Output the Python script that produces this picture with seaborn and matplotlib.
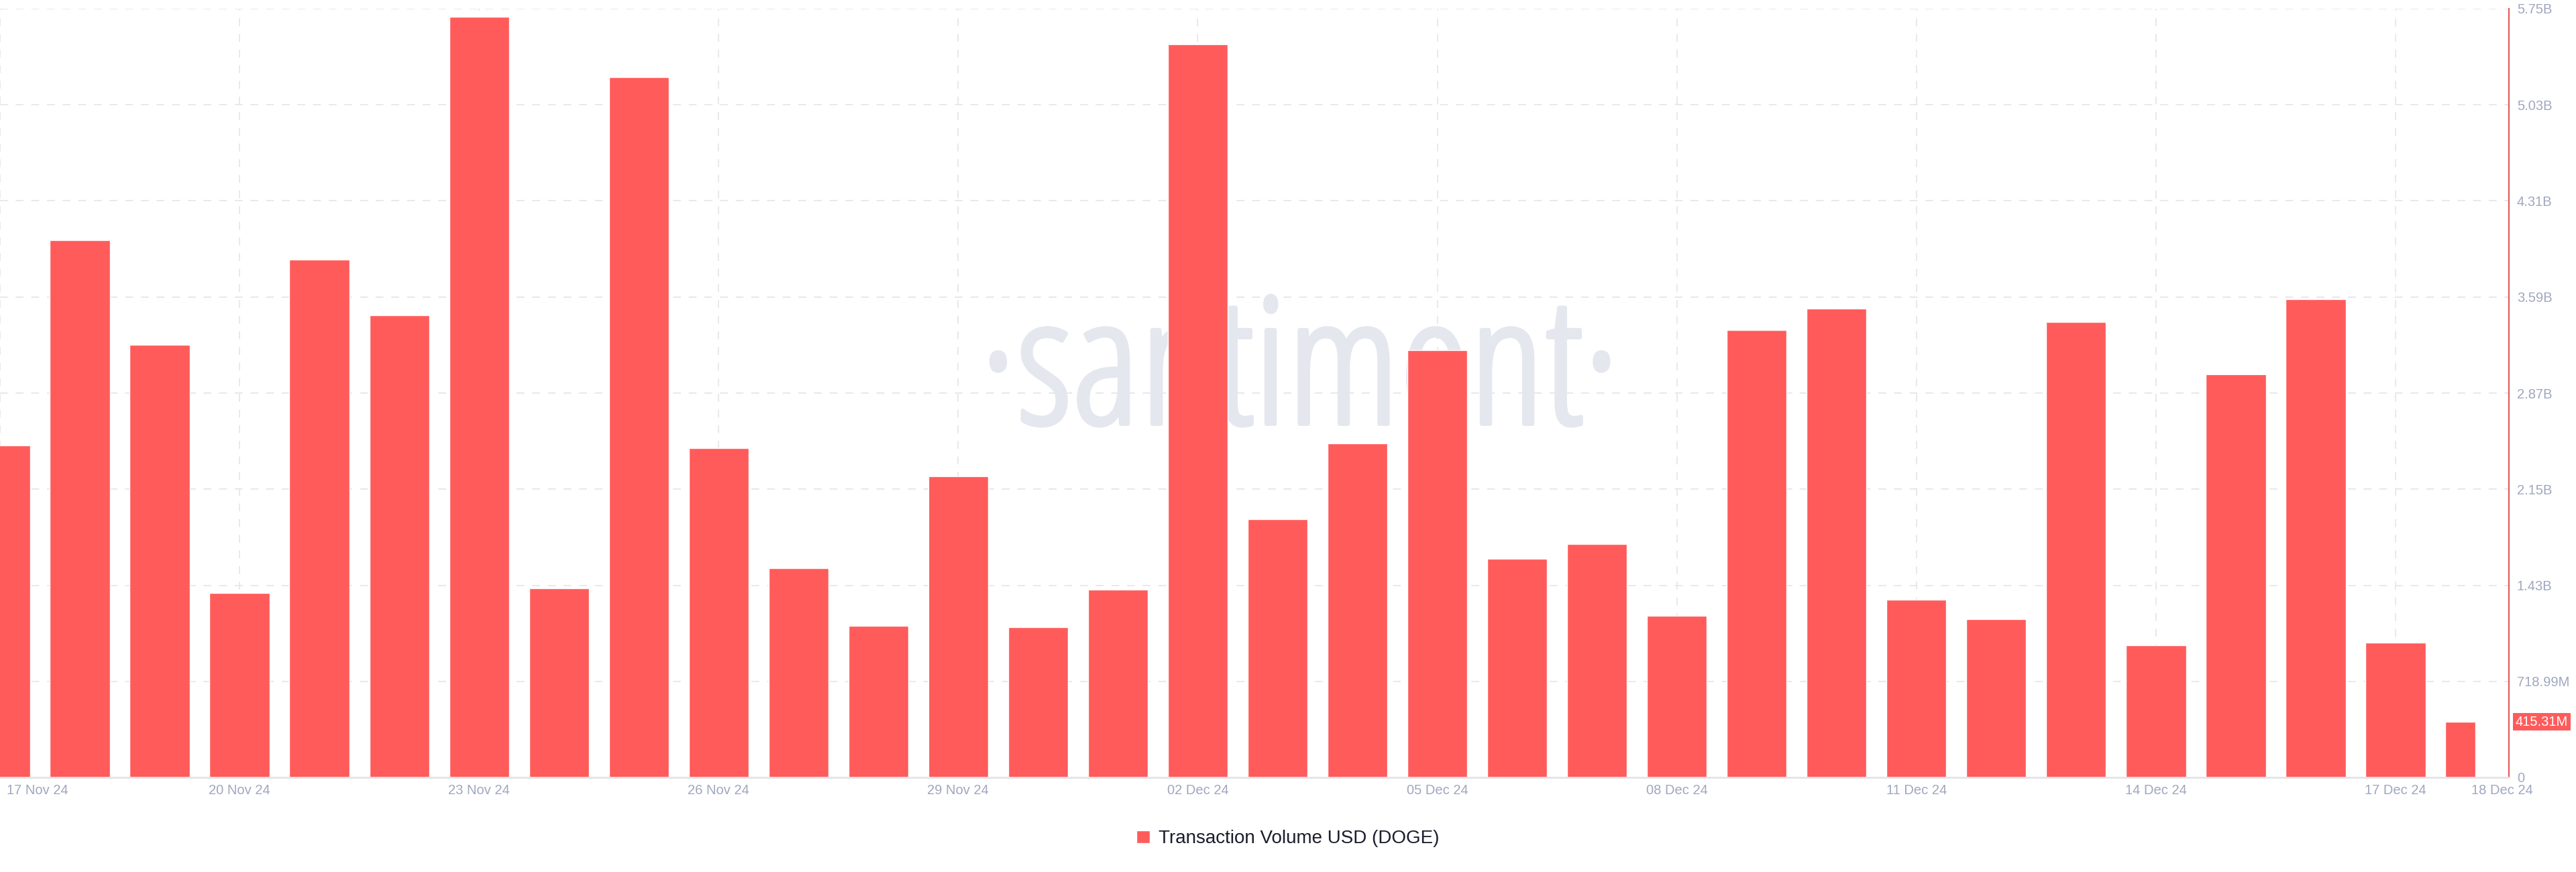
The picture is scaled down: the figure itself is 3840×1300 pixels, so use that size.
import matplotlib
matplotlib.use("Agg")
import matplotlib.pyplot as plt
import matplotlib.transforms as mtransforms
import matplotlib.patheffects as pe
from matplotlib import font_manager
import seaborn as sns
import pandas as pd

# --- data ---
dates = ["17 Nov 24", "18 Nov 24", "19 Nov 24", "20 Nov 24", "21 Nov 24", "22 Nov 24",
         "23 Nov 24", "24 Nov 24", "25 Nov 24", "26 Nov 24", "27 Nov 24", "28 Nov 24",
         "29 Nov 24", "30 Nov 24", "01 Dec 24", "02 Dec 24", "03 Dec 24", "04 Dec 24",
         "05 Dec 24", "06 Dec 24", "07 Dec 24", "08 Dec 24", "09 Dec 24", "10 Dec 24",
         "11 Dec 24", "12 Dec 24", "13 Dec 24", "14 Dec 24", "15 Dec 24", "16 Dec 24",
         "17 Dec 24", "18 Dec 24"]
volume_bn = [2.486, 4.022, 3.236, 1.380, 3.875, 3.457, 5.694, 1.417, 5.239, 2.462,
             1.565, 1.134, 2.253, 1.122, 1.405, 5.485, 1.933, 2.498, 3.199, 1.638,
             1.749, 1.208, 3.346, 3.506, 1.331, 1.184, 3.408, 0.987, 3.015, 3.580,
             1.011, 0.41531]
x_tick_days = ["17 Nov 24", "20 Nov 24", "23 Nov 24", "26 Nov 24", "29 Nov 24", "02 Dec 24",
               "05 Dec 24", "08 Dec 24", "11 Dec 24", "14 Dec 24", "17 Dec 24", "18 Dec 24"]
y_step = 718.99e6
y_tick_labels = ["0", "718.99M", "1.43B", "2.15B", "2.87B", "3.59B", "4.31B", "5.03B", "5.75B"]
series_name = "Transaction Volume USD (DOGE)"
last_label = "415.31M"

df = pd.DataFrame({"date": dates, "volume": [v * 1e9 for v in volume_bn]})

# --- colours ---
BAR = "#FF5B5B"
AXIS_RED = "#E35D5D"
TICK = "#A0A7BF"
GRID = "#E8E8ED"
WM = "#E5E7EF"

sns.set_style("white")
plt.rcParams["font.family"] = ["Liberation Sans", "DejaVu Sans"]


def _weight(w):
    if isinstance(w, (int, float)):
        return w
    return font_manager.weight_dict.get(str(w).lower(), 400)


# watermark font: a light/regular narrow face if there is one, else Open Sans a bit smaller
wm_font = font_manager.FontProperties(family=["Open Sans", "DejaVu Sans"], size=142)
wm_stroke = 0
narrow = [f for f in font_manager.fontManager.ttflist
          if ("Condensed" in f.name or "Narrow" in f.name or "ondensed" in str(f.stretch))
          and _weight(f.weight) <= 400 and f.style == "normal"]
if narrow:
    narrow.sort(key=lambda f: ("Open Sans" not in f.name, -_weight(f.weight)))
    wm_font = font_manager.FontProperties(fname=narrow[0].fname, size=190)
    wm_stroke = 4.5

fig = plt.figure(figsize=(38.4, 13), dpi=100)
ax = fig.add_axes([0, 1 - 1159 / 1300, 3740 / 3840, (1159 - 13) / 1300])

sns.barplot(data=df, x="date", y="volume", color=BAR, saturation=1, width=0.75,
            label=series_name, ax=ax, zorder=2)

# the last day is only partly in: draw the left half of its bar
last = ax.patches[-1]
last.set_width(last.get_width() / 2)

ax.set_xlim(0, len(dates) - 1 + 0.42)
ax.set_ylim(0, y_step * (len(y_tick_labels) - 1))

# x ticks every 3 days + last day
xpos = [dates.index(d) for d in x_tick_days]
ax.set_xticks(xpos)
ax.set_xticklabels(x_tick_days)
ax.tick_params(axis="x", length=0, pad=7, labelsize=14.5, labelcolor=TICK)
xl = ax.get_xticklabels()
xl[0].set_horizontalalignment("left")
xl[0].set_transform(xl[0].get_transform() + mtransforms.ScaledTranslation(0.10, 0, fig.dpi_scale_trans))
xl[-1].set_transform(xl[-1].get_transform() + mtransforms.ScaledTranslation(0.40, 0, fig.dpi_scale_trans))

# y axis on the right
ax.yaxis.tick_right()
ax.set_yticks([y_step * i for i in range(len(y_tick_labels))])
ax.set_yticklabels(y_tick_labels)
ax.tick_params(axis="y", length=0, pad=8.5, labelsize=14.5, labelcolor=TICK)
ax.set_xlabel("")
ax.set_ylabel("")

# grid
for yv in ax.get_yticks()[1:]:
    ax.axhline(yv, color=GRID, lw=1.4, ls=(0, (6, 6)), zorder=0)
for xv in xpos[:-1]:
    ax.axvline(xv, color=GRID, lw=1.4, ls=(0, (6, 6)), zorder=0)

for s in ["top", "left"]:
    ax.spines[s].set_visible(False)
ax.spines["bottom"].set_color("#E4E4E8")
ax.spines["bottom"].set_linewidth(2)
ax.spines["right"].set_color(AXIS_RED)
ax.spines["right"].set_linewidth(1.6)

# watermark
wm = ax.text(0.518, 0.46, "\u00b7santiment\u00b7", transform=ax.transAxes, ha="center", va="baseline",
             fontproperties=wm_font, color=WM, zorder=1)
if wm_stroke:
    wm.set_path_effects([pe.withStroke(linewidth=wm_stroke, foreground=WM)])

# latest value badge
ax.annotate(last_label, xy=(1, volume_bn[-1] * 1e9), xycoords=ax.get_yaxis_transform(),
            xytext=(7, 0), textcoords="offset points", ha="left", va="center",
            fontsize=14.5, color="white", annotation_clip=False,
            bbox=dict(boxstyle="square,pad=0.18", fc=BAR, ec="none"))

# legend
handles, labels = ax.get_legend_handles_labels()
if ax.get_legend() is not None:
    ax.get_legend().remove()
fig.legend(handles, labels, loc="center", bbox_to_anchor=(0.5, 1 - 1250 / 1300),
           frameon=False, fontsize=20, handlelength=0.7, handleheight=0.7,
           handletextpad=0.5, labelcolor="#1B1D2B")

fig.savefig("out.png", dpi=100, facecolor="white")
